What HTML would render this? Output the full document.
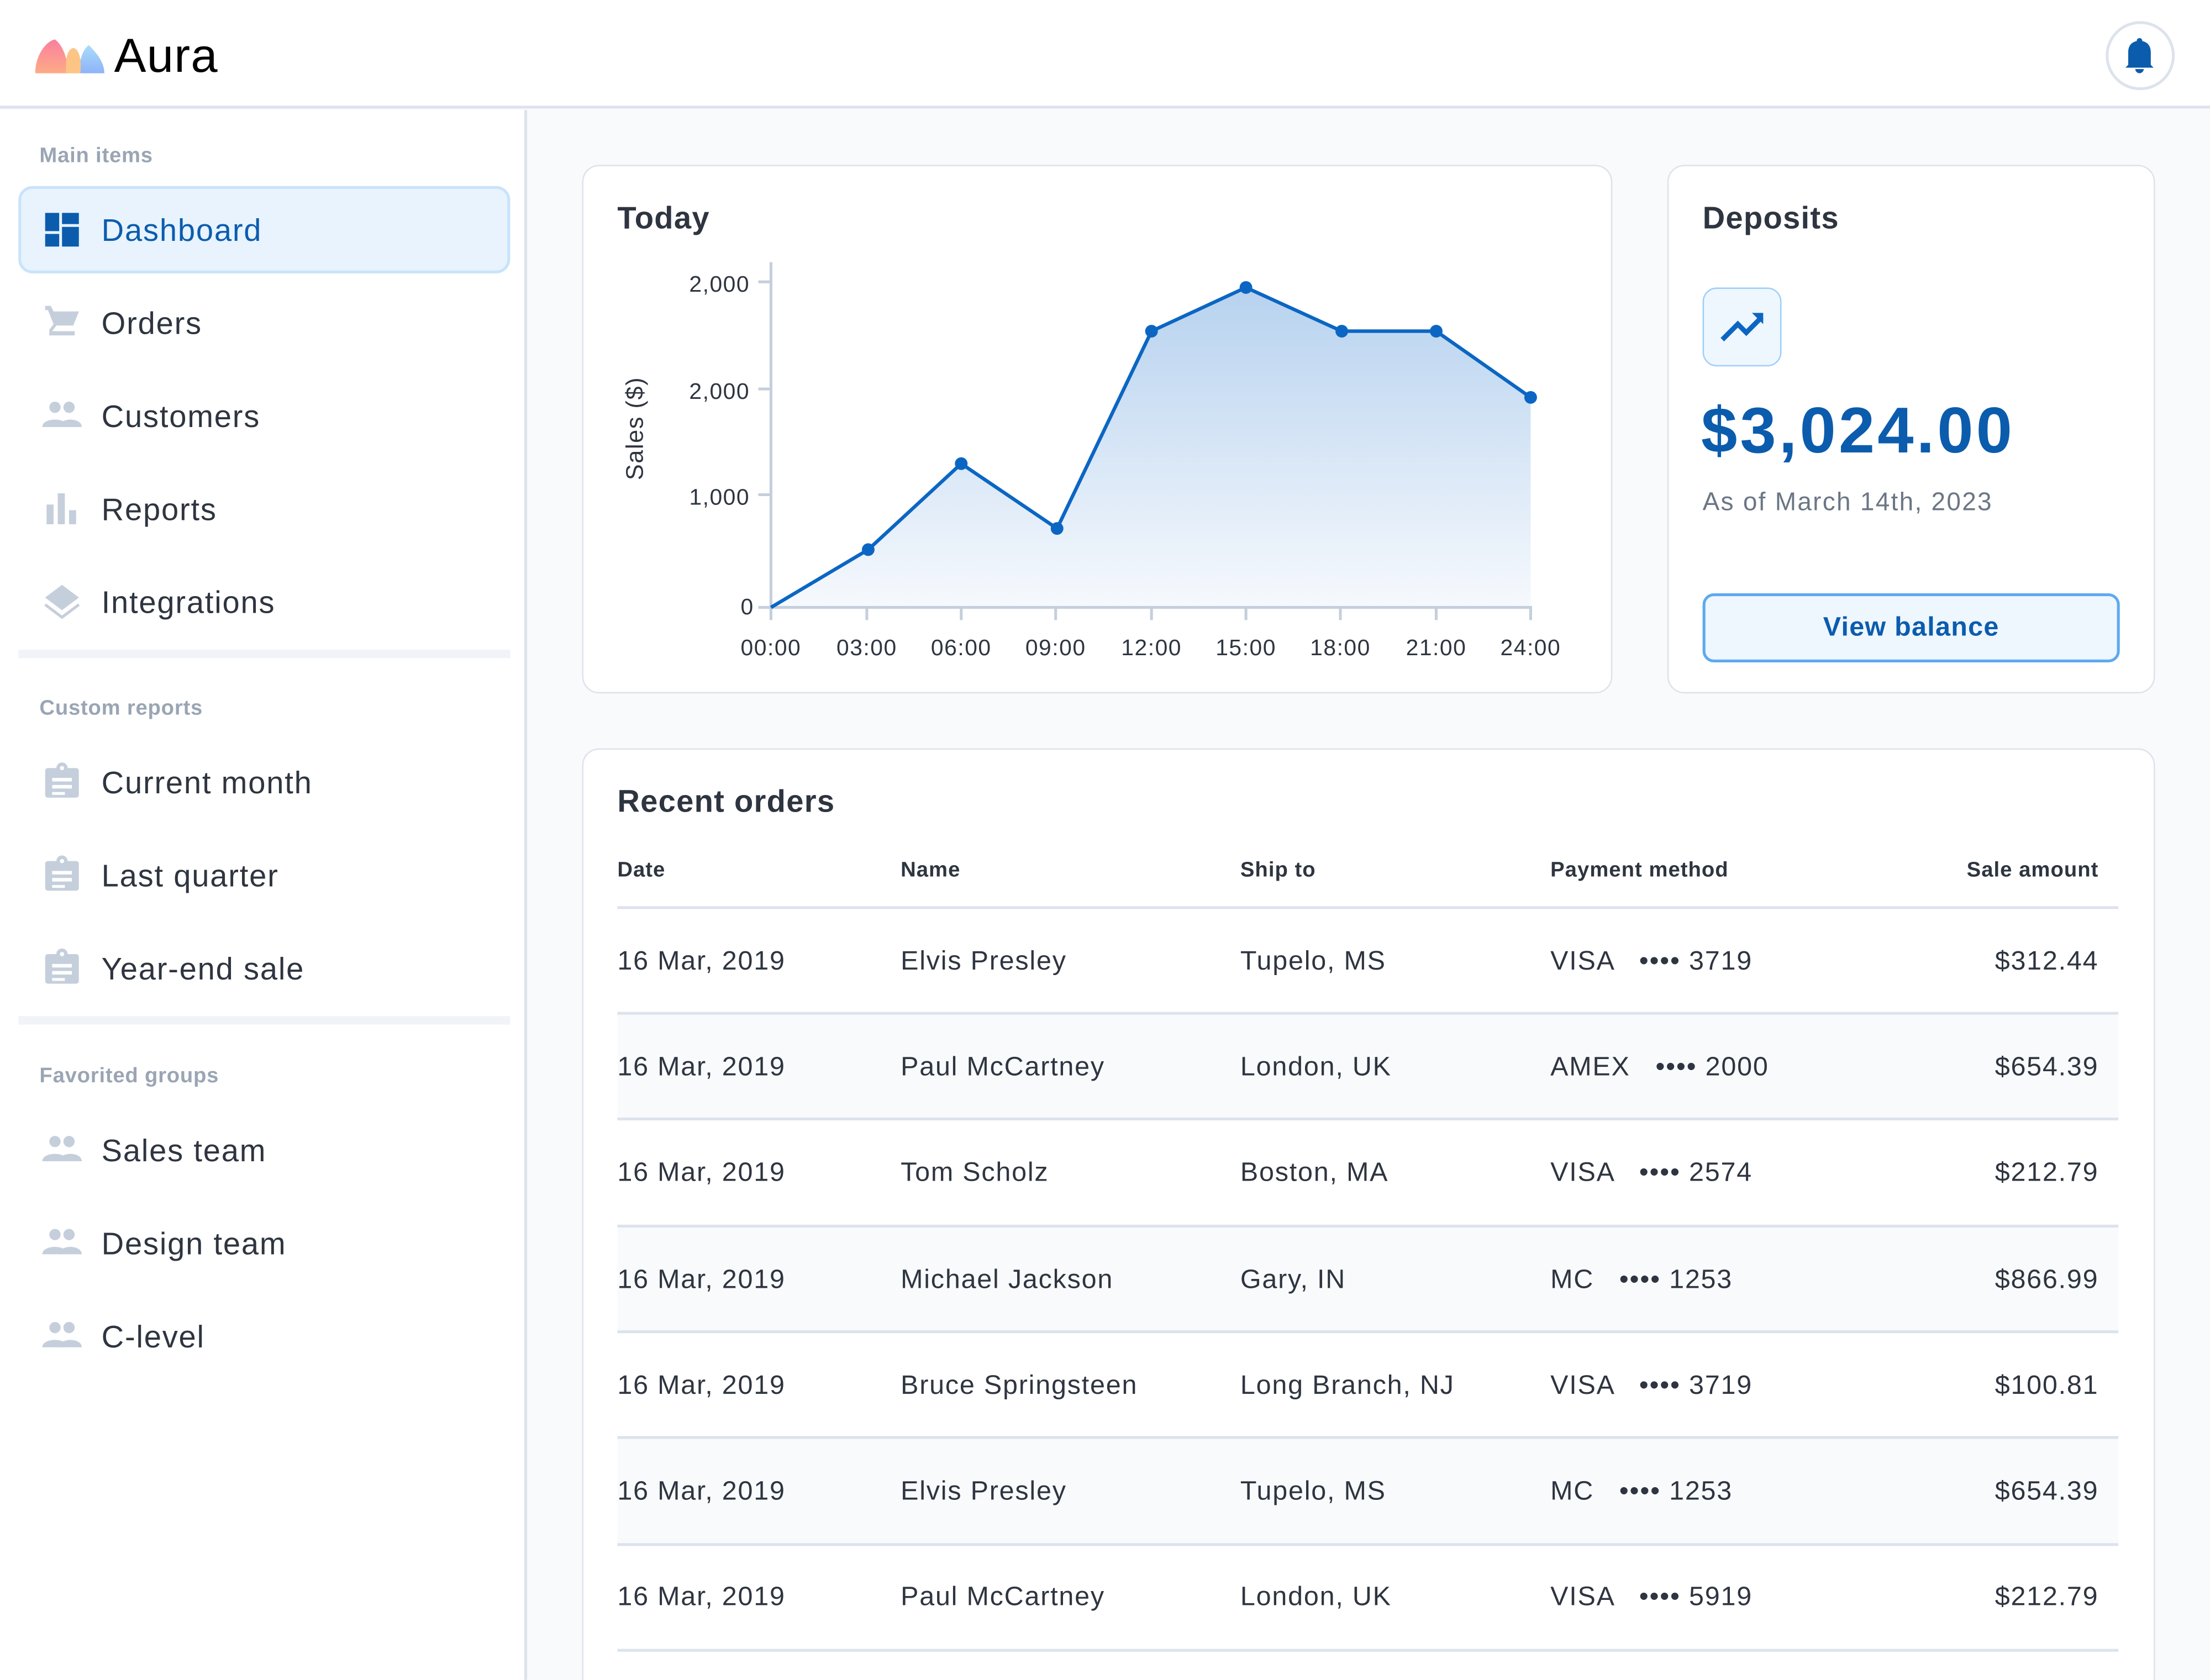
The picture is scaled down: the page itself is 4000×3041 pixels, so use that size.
<!DOCTYPE html>
<html><head><meta charset="utf-8">
<style>
*{margin:0;padding:0;box-sizing:border-box}
html,body{width:4000px;height:3040px;overflow:hidden;background:#fff}
#w{position:absolute;left:0;top:0;width:1568px;height:1192px;transform:scale(2.5510);transform-origin:0 0;font-family:"Liberation Sans",sans-serif;color:#2e3540;background:#f8fafc;overflow:hidden}
.a{position:absolute;white-space:nowrap}
.t{position:absolute;white-space:nowrap;height:30px;line-height:30px;letter-spacing:0.7px}
.si{font-size:22px}
.lab{font-size:15px;font-weight:bold;color:#9aa5b4;letter-spacing:0.3px}
.card{position:absolute;background:#fff;border:1.5px solid #dde3ec;border-radius:12px}
.h{font-size:22px;font-weight:bold;color:#2e3540;letter-spacing:0.5px}
.r{font-size:19px}
.th{font-size:15px;font-weight:bold;letter-spacing:0.4px}
</style></head><body><div id="w">
<div class="a" style="left:0;top:0;width:1568px;height:77px;background:#fff;border-bottom:2px solid #dde3ec"></div>
<svg class="a" style="left:25px;top:27px" width="50" height="26" viewBox="0 0 50 26">
<defs><linearGradient id="g1" x1="0" y1="0" x2="0" y2="1"><stop offset="0" stop-color="#fb7fa0"/><stop offset="1" stop-color="#fdab86"/></linearGradient>
<linearGradient id="g2" x1="0" y1="0" x2="0" y2="1"><stop offset="0" stop-color="#a9dcfb"/><stop offset="1" stop-color="#8fb3f8"/></linearGradient></defs>
<path d="M0 25 C0 12 8 2 14 1 C18 4 22 10 24 25Z" fill="url(#g1)"/>
<path d="M31 25 C31 14 35 7 38 5 C45 12 49 18 49 25Z" fill="url(#g2)"/>
<path d="M22 25 C21 14 23 8 27 7 C31 8 33 14 32 25Z" fill="#fdc585"/>
</svg>
<div class="a" style="left:81px;top:19px;font-size:34px;line-height:42px;color:#000;letter-spacing:0.5px">Aura</div>
<div class="a" style="left:1494px;top:15px;width:49px;height:49px;border:2px solid #dde3ec;border-radius:50%;background:#fff"></div>
<svg class="a" style="left:1506px;top:26px" width="24" height="26" viewBox="0 0 24 26"><circle cx="12" cy="3" r="2" fill="#0b5cad"/><path d="M4 20 L4 11 C4 6 7 3 12 3 C17 3 20 6 20 11 L20 20 L22 22 L2 22Z" fill="#0b5cad"/><path d="M9 23 H15 C15 25 13 26 12 26 C11 26 9 25 9 23Z" fill="#0b5cad"/></svg>
<div class="a" style="left:0;top:78px;width:374px;height:1114px;background:#fff;border-right:2px solid #dde3ec"></div>
<div class="t lab" style="left:28px;top:96px">Main items</div>
<div class="a" style="left:13px;top:132px;width:349px;height:62px;background:#e8f3fe;border:2px solid #c9e3fb;border-radius:10px"></div>
<svg class="a" style="left:32px;top:151px" width="24" height="24"><rect x="0" y="0" width="10" height="13" fill="#0b5cad"/><rect x="12" y="0" width="12" height="8" fill="#0b5cad"/><rect x="0" y="15" width="10" height="9" fill="#0b5cad"/><rect x="12" y="10" width="12" height="14" fill="#0b5cad"/></svg>
<div class="t si" style="left:72px;top:149px;color:#0b5cad">Dashboard</div>
<svg class="a" style="left:31px;top:216px" width="26" height="26"><path d="M1 1 H5 L7 5 H25 L21 15 H9 L6 19 H22 V22 H4 V18 L7 14 L3 4 H1Z" fill="#c5cfdc"/></svg>
<div class="t si" style="left:72px;top:215px">Orders</div>
<svg class="a" style="left:30px;top:284px" width="28" height="20"><circle cx="9" cy="5" r="4" fill="#c5cfdc"/><circle cx="19" cy="5" r="4" fill="#c5cfdc"/><path d="M0 19 C0 12 18 12 18 19Z" fill="#c5cfdc"/><path d="M12 19 C12 12 28 12 28 19Z" fill="#c5cfdc"/></svg>
<div class="t si" style="left:72px;top:281px">Customers</div>
<svg class="a" style="left:33px;top:350px" width="22" height="22"><rect x="0" y="8" width="5" height="14" fill="#c5cfdc"/><rect x="8" y="0" width="5" height="22" fill="#c5cfdc"/><rect x="16" y="12" width="5" height="10" fill="#c5cfdc"/></svg>
<div class="t si" style="left:72px;top:347px">Reports</div>
<svg class="a" style="left:31px;top:414px" width="26" height="26"><path d="M13 1 L25 10 L13 19 L1 10Z" fill="#c5cfdc"/><path d="M1 15 L13 24 L25 15" stroke="#c5cfdc" stroke-width="2" fill="none"/></svg>
<div class="t si" style="left:72px;top:413px">Integrations</div>
<div class="a" style="left:13px;top:461px;width:349px;height:6px;background:#f0f4f8"></div>
<div class="t lab" style="left:28px;top:488px">Custom reports</div>
<svg class="a" style="left:32px;top:541px" width="24" height="26"><rect x="0" y="4" width="24" height="21" rx="2" fill="#c5cfdc"/><circle cx="12" cy="4" r="4" fill="#c5cfdc"/><circle cx="12" cy="4" r="1.5" fill="#fff"/><rect x="5" y="11" width="14" height="2.5" fill="#fff"/><rect x="5" y="16" width="14" height="2.5" fill="#fff"/><rect x="5" y="21" width="9" height="2" fill="#fff"/></svg>
<div class="t si" style="left:72px;top:541px">Current month</div>
<svg class="a" style="left:32px;top:607px" width="24" height="26"><rect x="0" y="4" width="24" height="21" rx="2" fill="#c5cfdc"/><circle cx="12" cy="4" r="4" fill="#c5cfdc"/><circle cx="12" cy="4" r="1.5" fill="#fff"/><rect x="5" y="11" width="14" height="2.5" fill="#fff"/><rect x="5" y="16" width="14" height="2.5" fill="#fff"/><rect x="5" y="21" width="9" height="2" fill="#fff"/></svg>
<div class="t si" style="left:72px;top:607px">Last quarter</div>
<svg class="a" style="left:32px;top:673px" width="24" height="26"><rect x="0" y="4" width="24" height="21" rx="2" fill="#c5cfdc"/><circle cx="12" cy="4" r="4" fill="#c5cfdc"/><circle cx="12" cy="4" r="1.5" fill="#fff"/><rect x="5" y="11" width="14" height="2.5" fill="#fff"/><rect x="5" y="16" width="14" height="2.5" fill="#fff"/><rect x="5" y="21" width="9" height="2" fill="#fff"/></svg>
<div class="t si" style="left:72px;top:673px">Year-end sale</div>
<div class="a" style="left:13px;top:721px;width:349px;height:6px;background:#f0f4f8"></div>
<div class="t lab" style="left:28px;top:749px">Favorited groups</div>
<svg class="a" style="left:30px;top:805px" width="28" height="20"><circle cx="9" cy="5" r="4" fill="#c5cfdc"/><circle cx="19" cy="5" r="4" fill="#c5cfdc"/><path d="M0 19 C0 12 18 12 18 19Z" fill="#c5cfdc"/><path d="M12 19 C12 12 28 12 28 19Z" fill="#c5cfdc"/></svg>
<div class="t si" style="left:72px;top:802px">Sales team</div>
<svg class="a" style="left:30px;top:871px" width="28" height="20"><circle cx="9" cy="5" r="4" fill="#c5cfdc"/><circle cx="19" cy="5" r="4" fill="#c5cfdc"/><path d="M0 19 C0 12 18 12 18 19Z" fill="#c5cfdc"/><path d="M12 19 C12 12 28 12 28 19Z" fill="#c5cfdc"/></svg>
<div class="t si" style="left:72px;top:868px">Design team</div>
<svg class="a" style="left:30px;top:937px" width="28" height="20"><circle cx="9" cy="5" r="4" fill="#c5cfdc"/><circle cx="19" cy="5" r="4" fill="#c5cfdc"/><path d="M0 19 C0 12 18 12 18 19Z" fill="#c5cfdc"/><path d="M12 19 C12 12 28 12 28 19Z" fill="#c5cfdc"/></svg>
<div class="t si" style="left:72px;top:934px">C-level</div>
<div class="card" style="left:413px;top:117px;width:731px;height:375px"></div>
<div class="t h" style="left:438px;top:140px">Today</div>
<svg class="a" style="left:413px;top:117px" width="731" height="375" viewBox="413 117 731 375" font-family="Liberation Sans, sans-serif">
<defs><linearGradient id="af" x1="0" y1="0" x2="0" y2="1"><stop offset="0" stop-color="#b7d2ef"/><stop offset="1" stop-color="#f6f9fd"/></linearGradient></defs>
<path d="M547 431 L616 390 L682 329 L750 375 L817 235 L884 204 L952 235 L1019 235 L1086 282 L1086 431Z" fill="url(#af)"/>
<g stroke="#c5cfdc" stroke-width="2">
<line x1="547" y1="186" x2="547" y2="440"/><line x1="538" y1="431" x2="1087" y2="431"/>
<line x1="538" y1="200" x2="547" y2="200"/><line x1="538" y1="276" x2="547" y2="276"/><line x1="538" y1="351" x2="547" y2="351"/>
<line x1="615" y1="431" x2="615" y2="440"/><line x1="682" y1="431" x2="682" y2="440"/><line x1="749" y1="431" x2="749" y2="440"/><line x1="817" y1="431" x2="817" y2="440"/><line x1="884" y1="431" x2="884" y2="440"/><line x1="951" y1="431" x2="951" y2="440"/><line x1="1019" y1="431" x2="1019" y2="440"/><line x1="1086" y1="431" x2="1086" y2="440"/>
</g>
<polyline points="547,431 616,390 682,329 750,375 817,235 884,204 952,235 1019,235 1086,282" fill="none" stroke="#0b66c3" stroke-width="2.5" stroke-linejoin="round"/>
<g fill="#0b66c3"><circle cx="616" cy="390" r="4.5"/><circle cx="682" cy="329" r="4.5"/><circle cx="750" cy="375" r="4.5"/><circle cx="817" cy="235" r="4.5"/><circle cx="884" cy="204" r="4.5"/><circle cx="952" cy="235" r="4.5"/><circle cx="1019" cy="235" r="4.5"/><circle cx="1086" cy="282" r="4.5"/></g>
<g font-size="16" fill="#2e3540" text-anchor="end" letter-spacing="0.6">
<text x="532" y="207">2,000</text><text x="532" y="283">2,000</text><text x="532" y="358">1,000</text><text x="535" y="436">0</text></g>
<g font-size="16" fill="#2e3540" text-anchor="middle" letter-spacing="0.6">
<text x="547" y="465">00:00</text><text x="615" y="465">03:00</text><text x="682" y="465">06:00</text><text x="749" y="465">09:00</text><text x="817" y="465">12:00</text><text x="884" y="465">15:00</text><text x="951" y="465">18:00</text><text x="1019" y="465">21:00</text><text x="1086" y="465">24:00</text></g>
<text transform="translate(456,304) rotate(-90)" font-size="17" fill="#2e3540" text-anchor="middle" letter-spacing="0.6">Sales ($)</text>
</svg>
<div class="card" style="left:1183px;top:117px;width:346px;height:375px"></div>
<div class="t h" style="left:1208px;top:140px">Deposits</div>
<div class="a" style="left:1208px;top:204px;width:56px;height:56px;background:#eff7fe;border:1.5px solid #9fcffa;border-radius:10px"></div>
<svg class="a" style="left:1220px;top:218px" width="32" height="28"><polyline points="2,23 13,12 19,18 30,7" fill="none" stroke="#0b66c3" stroke-width="3.5"/><path d="M23 4 H31 V12Z" fill="#0b66c3"/></svg>
<div class="a" style="left:1207px;top:277px;font-size:46px;line-height:56px;font-weight:bold;color:#0b5cad;letter-spacing:2px">$3,024.00</div>
<div class="t" style="left:1208px;top:341px;font-size:18px;color:#6b7685;letter-spacing:0.9px">As of March 14th, 2023</div>
<div class="a" style="left:1208px;top:421px;width:296px;height:49px;background:#eef6fe;border:2px solid #5ea9ef;border-radius:8px;text-align:center;line-height:45px;font-size:19px;font-weight:bold;color:#0b5cad;letter-spacing:0.5px">View balance</div>
<div class="card" style="left:413px;top:531px;width:1116px;height:700px"></div>
<div class="t h" style="left:438px;top:554px">Recent orders</div>
<div class="t th" style="left:438px;top:603px">Date</div>
<div class="t th" style="left:639px;top:603px">Name</div>
<div class="t th" style="left:880px;top:603px">Ship to</div>
<div class="t th" style="left:1100px;top:603px">Payment method</div>
<div class="t th" style="right:79px;top:603px">Sale amount</div>
<div class="a" style="left:438px;top:643px;width:1065px;height:2px;background:#dde3ec"></div>
<div class="a" style="left:438px;top:719px;width:1065px;height:75px;background:#f8fafc"></div>
<div class="a" style="left:438px;top:870px;width:1065px;height:75px;background:#f8fafc"></div>
<div class="a" style="left:438px;top:1020px;width:1065px;height:76px;background:#f8fafc"></div>
<div class="a" style="left:438px;top:718px;width:1065px;height:2px;background:#dde3ec"></div>
<div class="a" style="left:438px;top:793px;width:1065px;height:2px;background:#dde3ec"></div>
<div class="a" style="left:438px;top:869px;width:1065px;height:2px;background:#dde3ec"></div>
<div class="a" style="left:438px;top:944px;width:1065px;height:2px;background:#dde3ec"></div>
<div class="a" style="left:438px;top:1019px;width:1065px;height:2px;background:#dde3ec"></div>
<div class="a" style="left:438px;top:1095px;width:1065px;height:2px;background:#dde3ec"></div>
<div class="a" style="left:438px;top:1170px;width:1065px;height:2px;background:#dde3ec"></div>
<div class="t r" style="left:438px;top:668px">16 Mar, 2019</div><div class="t r" style="left:639px;top:668px">Elvis Presley</div><div class="t r" style="left:880px;top:668px">Tupelo, MS</div><div class="t r" style="left:1100px;top:668px">VISA &nbsp;&nbsp;•••• 3719</div><div class="t r" style="right:79px;top:668px">$312.44</div>
<div class="t r" style="left:438px;top:743px">16 Mar, 2019</div><div class="t r" style="left:639px;top:743px">Paul McCartney</div><div class="t r" style="left:880px;top:743px">London, UK</div><div class="t r" style="left:1100px;top:743px">AMEX &nbsp;&nbsp;•••• 2000</div><div class="t r" style="right:79px;top:743px">$654.39</div>
<div class="t r" style="left:438px;top:818px">16 Mar, 2019</div><div class="t r" style="left:639px;top:818px">Tom Scholz</div><div class="t r" style="left:880px;top:818px">Boston, MA</div><div class="t r" style="left:1100px;top:818px">VISA &nbsp;&nbsp;•••• 2574</div><div class="t r" style="right:79px;top:818px">$212.79</div>
<div class="t r" style="left:438px;top:894px">16 Mar, 2019</div><div class="t r" style="left:639px;top:894px">Michael Jackson</div><div class="t r" style="left:880px;top:894px">Gary, IN</div><div class="t r" style="left:1100px;top:894px">MC &nbsp;&nbsp;•••• 1253</div><div class="t r" style="right:79px;top:894px">$866.99</div>
<div class="t r" style="left:438px;top:969px">16 Mar, 2019</div><div class="t r" style="left:639px;top:969px">Bruce Springsteen</div><div class="t r" style="left:880px;top:969px">Long Branch, NJ</div><div class="t r" style="left:1100px;top:969px">VISA &nbsp;&nbsp;•••• 3719</div><div class="t r" style="right:79px;top:969px">$100.81</div>
<div class="t r" style="left:438px;top:1044px">16 Mar, 2019</div><div class="t r" style="left:639px;top:1044px">Elvis Presley</div><div class="t r" style="left:880px;top:1044px">Tupelo, MS</div><div class="t r" style="left:1100px;top:1044px">MC &nbsp;&nbsp;•••• 1253</div><div class="t r" style="right:79px;top:1044px">$654.39</div>
<div class="t r" style="left:438px;top:1119px">16 Mar, 2019</div><div class="t r" style="left:639px;top:1119px">Paul McCartney</div><div class="t r" style="left:880px;top:1119px">London, UK</div><div class="t r" style="left:1100px;top:1119px">VISA &nbsp;&nbsp;•••• 5919</div><div class="t r" style="right:79px;top:1119px">$212.79</div>
</div></body></html>
